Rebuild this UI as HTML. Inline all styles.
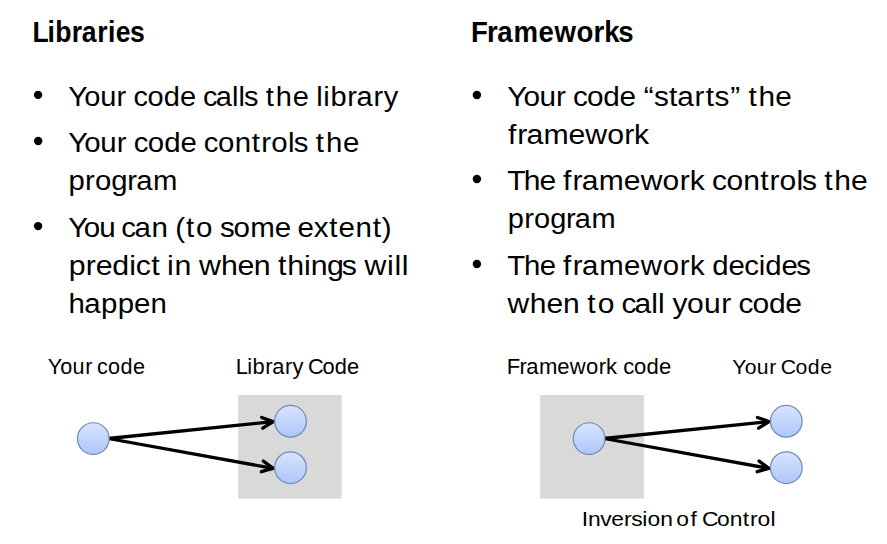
<!DOCTYPE html>
<html lang="en"><head><meta charset="utf-8"><title>Libraries vs Frameworks</title>
<style>
html,body{margin:0;padding:0;background:#fff;}
body{width:887px;height:544px;overflow:hidden;}
svg{display:block;}
text{font-family:"Liberation Sans",sans-serif;fill:#000;white-space:pre;}
.b{font-weight:bold;}
</style></head><body>
<svg width="887" height="544" viewBox="0 0 887 544">
<defs><linearGradient id="g" x1="0" y1="0" x2="0" y2="1"><stop offset="0" stop-color="#d9e5ff"/><stop offset="1" stop-color="#adc5f9"/></linearGradient></defs>
<rect width="887" height="544" fill="#fff"/>

<g class="diagram">
<rect x="238.1" y="395.0" width="103.5" height="103.7" fill="#d9d9d9"/>
<rect x="540.1" y="395.0" width="103.8" height="103.7" fill="#d9d9d9"/>
<g fill="none" stroke="#000" stroke-width="3.3">
<path d="M108.30 438.50L272.81 421.72" stroke-linecap="butt"/><path d="M262.78 428.16L273.20 421.68L261.68 417.44" stroke-linecap="round" stroke-linejoin="miter"/>
<path d="M108.30 438.50L272.82 468.29" stroke-linecap="butt"/><path d="M261.40 471.70L273.21 468.36L263.32 461.09" stroke-linecap="round" stroke-linejoin="miter"/>
<path d="M604.10 438.50L768.61 421.72" stroke-linecap="butt"/><path d="M758.58 428.16L769.00 421.68L757.48 417.44" stroke-linecap="round" stroke-linejoin="miter"/>
<path d="M604.10 438.50L768.62 468.29" stroke-linecap="butt"/><path d="M757.20 471.70L769.01 468.36L759.12 461.09" stroke-linecap="round" stroke-linejoin="miter"/>
</g>
<g fill="url(#g)" stroke="#7186ba" stroke-width="1.2">
<circle cx="93.3" cy="438.6" r="15.85"/>
<circle cx="290.5" cy="421.3" r="15.85"/>
<circle cx="290.5" cy="467.7" r="15.85"/>
<circle cx="589.1" cy="438.6" r="15.85"/>
<circle cx="786.3" cy="421.3" r="15.85"/>
<circle cx="786.3" cy="467.7" r="15.85"/>
</g>
</g>
<g class="bullets" fill="#000">
<circle cx="38.1" cy="94.9" r="4.2"/>
<circle cx="38.2" cy="141.0" r="4.2"/>
<circle cx="38.1" cy="226.1" r="4.2"/>
<circle cx="476.9" cy="95.0" r="4.2"/>
<circle cx="476.9" cy="179.0" r="4.2"/>
<circle cx="476.9" cy="264.0" r="4.2"/>
</g>
<g class="titles">
<text class="b" transform="translate(34.30 41.7) scale(0.9220 1)" x="-1.93 14.28 22.67 40.60 51.54 68.39 79.97 88.37 103.71" y="0" font-size="28.80">Libraries</text>
<text class="b" transform="translate(472.90 41.8) scale(0.9588 1)" x="-1.93 14.67 25.40 42.29 68.34 85.07 107.97 125.72 136.97 151.73" y="0" font-size="28.80">Frameworks</text>
</g>
<g class="list-libraries">
<text transform="translate(68.80 105.8) scale(1.0291 1)" x="-0.62 15.08 30.47 46.43 54.78 62.76 76.39 92.20 107.98 123.58 130.33 142.85 158.65 165.01 170.15 183.63 191.32 201.21 217.58 234.63 240.40 247.35 254.30 270.58 279.56 296.04 305.95" y="0" font-size="28.17">Your code calls the library</text>
<text transform="translate(68.80 151.8) scale(1.0440 1)" x="-0.62 14.93 30.19 46.00 54.21 62.26 75.74 91.42 107.04 122.49 129.31 143.02 159.07 175.32 184.24 193.95 210.04 215.55 229.88 236.65 246.40 262.60" y="0" font-size="28.17">Your code controls the</text>
<text transform="translate(70.30 189.8) scale(1.0393 1)" x="-1.82 14.16 23.70 39.39 54.74 63.40 79.61" y="0" font-size="28.17">program</text>
<text transform="translate(68.80 237.0) scale(1.0478 1)" x="-0.62 14.39 29.15 42.47 49.96 62.73 78.83 94.06 101.52 111.94 121.42 138.43 144.19 157.10 173.08 196.50 211.87 218.22 233.78 248.68 257.36 273.52 290.09 298.72" y="0" font-size="28.17">You can (to some extent)</text>
<text transform="translate(70.80 275.1) scale(1.0763 1)" x="-1.82 13.89 23.11 38.40 54.26 60.25 74.84 82.65 89.38 96.38 112.79 119.06 139.54 154.82 170.09 185.54 192.49 201.15 216.70 222.93 238.16 251.71 265.42 272.81 293.83 300.67 307.52" y="0" font-size="28.17">predict in when things will</text>
<text transform="translate(70.60 312.7) scale(1.0452 1)" x="-1.95 13.12 29.19 45.07 60.65 76.38" y="0" font-size="28.17">happen</text>
</g>
<g class="list-frameworks">
<text transform="translate(508.00 105.9) scale(1.0560 1)" x="-0.62 14.70 29.75 45.34 53.33 61.50 74.74 90.20 105.57 120.78 128.61 138.28 152.39 160.24 176.67 187.17 195.45 210.40 220.29 227.64 237.16 253.11" y="0" font-size="28.17">Your code “starts” the</text>
<text transform="translate(508.40 143.8) scale(1.0738 1)" x="-0.40 8.29 16.82 32.70 55.96 71.53 91.96 107.85 117.00" y="0" font-size="28.17">framework</text>
<text transform="translate(508.00 189.9) scale(1.0658 1)" x="-0.63 14.78 29.46 43.73 51.69 60.54 69.21 85.27 108.72 124.47 145.08 161.12 170.44 184.70 191.53 204.91 220.66 236.64 245.32 254.77 270.61 275.84 289.89 296.77 306.15 321.94" y="0" font-size="28.17">The framework controls the</text>
<text transform="translate(509.60 228.4) scale(1.0294 1)" x="-1.82 14.16 23.70 39.39 54.74 63.40 79.61" y="0" font-size="28.17">program</text>
<text transform="translate(508.00 275.0) scale(1.0432 1)" x="-0.63 15.26 30.40 45.15 52.81 62.00 70.96 87.41 111.25 127.36 148.35 164.72 174.41 189.02 195.76 211.40 226.46 240.26 246.53 262.12 276.41" y="0" font-size="28.17">The framework decides</text>
<text transform="translate(507.50 312.8) scale(1.0652 1)" x="0.04 20.96 36.56 52.20 68.02 74.76 84.78 102.65 107.00 119.34 135.05 141.39 147.11 154.83 168.60 184.40 200.74 210.28 216.87 230.04 245.45 260.74" y="0" font-size="28.17">when to call your code</text>
</g>
<g class="labels">
<text transform="translate(48.25 373.7) scale(1.0224 1)" x="-0.46 11.77 23.71 36.10 42.79 47.76 58.40 70.64 82.93" y="0" font-size="21.15">Your code</text>
<text transform="translate(237.50 373.5) scale(1.0321 1)" x="-1.73 9.43 14.64 26.85 33.57 45.94 53.41 64.17 68.30 82.35 94.18 106.02" y="0" font-size="21.15">Library Code</text>
<text transform="translate(508.60 373.8) scale(1.0433 1)" x="-1.73 10.34 16.88 29.03 46.74 58.64 74.21 86.30 93.39 103.95 109.90 120.20 132.14 144.06" y="0" font-size="21.15">Framework code</text>
<text transform="translate(732.80 373.7) scale(1.0032 1)" x="-0.46 11.90 23.96 36.47 43.28 47.77 62.46 74.80 87.27" y="0" font-size="21.15">Your Code</text>
<text transform="translate(583.80 525.7) scale(1.0808 1)" x="-1.95 3.89 15.31 25.52 37.28 43.89 54.04 58.84 70.66 82.24 85.53 98.73 106.06 109.30 123.20 135.09 147.13 153.69 160.83 172.78" y="0" font-size="21.15">Inversion of Control</text>
</g>
</svg>
</body></html>
